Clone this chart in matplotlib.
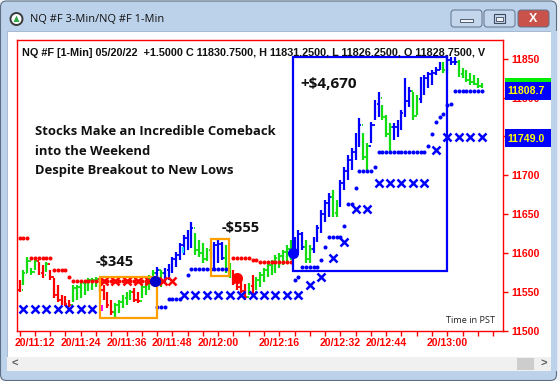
import numpy as np
import matplotlib.pyplot as plt
from matplotlib.colors import LinearSegmentedColormap
from matplotlib.patches import Rectangle, FancyBboxPatch, Circle, Polygon

plt.rcParams["font.family"] = ["Liberation Sans", "DejaVu Sans"]

# 1-min bars, x in minutes after 11:00 (PST, 05/20/22)
bar_min = list(range(8, 130))
bar_hi = [11565, 11578, 11595, 11581, 11594, 11589, 11585, 11589, 11578, 11568,
          11559, 11546, 11545, 11540, 11559, 11559, 11566, 11563, 11568, 11568,
          11569, 11566, 11559, 11550, 11540, 11536, 11540, 11546, 11550, 11553,
          11555, 11550, 11559, 11563, 11572, 11578, 11582, 11578, 11581, 11586,
          11595, 11601, 11613, 11623, 11630, 11640, 11626, 11617, 11613, 11607,
          11610, 11614, 11617, 11614, 11610, 11587, 11578, 11569, 11565, 11561,
          11562, 11572, 11569, 11576, 11581, 11589, 11591, 11598, 11600, 11604,
          11610, 11617, 11621, 11630, 11627, 11617, 11610, 11621, 11636, 11655,
          11668, 11677, 11681, 11668, 11694, 11711, 11726, 11735, 11754, 11774,
          11754, 11742, 11769, 11797, 11807, 11790, 11778, 11767, 11767, 11771,
          11784, 11825, 11813, 11807, 11803, 11826, 11829, 11833, 11835, 11839,
          11846, 11846, 11855, 11852, 11852, 11848, 11838, 11835, 11832, 11829,
          11825, 11819]
bar_lo = [11550, 11559, 11574, 11572, 11578, 11572, 11568, 11576, 11566, 11542,
          11537, 11533, 11532, 11531, 11537, 11540, 11542, 11546, 11551, 11553,
          11556, 11550, 11540, 11530, 11521, 11518, 11523, 11530, 11534, 11540,
          11537, 11536, 11542, 11546, 11553, 11559, 11562, 11557, 11562, 11565,
          11575, 11582, 11591, 11598, 11604, 11607, 11598, 11595, 11587, 11590,
          11594, 11581, 11588, 11591, 11575, 11568, 11559, 11553, 11549, 11540,
          11546, 11546, 11553, 11556, 11563, 11569, 11572, 11575, 11581, 11585,
          11588, 11591, 11598, 11600, 11604, 11588, 11588, 11600, 11615, 11626,
          11640, 11647, 11647, 11647, 11659, 11681, 11694, 11707, 11720, 11736,
          11720, 11707, 11742, 11771, 11775, 11771, 11749, 11729, 11745, 11749,
          11758, 11775, 11788, 11771, 11777, 11793, 11803, 11812, 11816, 11829,
          11835, 11832, 11832, 11842, 11842, 11826, 11825, 11820, 11816, 11816,
          11812, 11812]
bar_cl = [11553, 11575, 11590, 11576, 11590, 11575, 11572, 11586, 11569, 11546,
          11540, 11536, 11535, 11534, 11555, 11556, 11562, 11560, 11565, 11566,
          11567, 11553, 11543, 11533, 11524, 11533, 11537, 11543, 11547, 11550,
          11540, 11539, 11556, 11560, 11569, 11575, 11579, 11574, 11578, 11583,
          11592, 11598, 11610, 11620, 11626, 11632, 11604, 11600, 11592, 11604,
          11606, 11610, 11612, 11594, 11580, 11572, 11562, 11556, 11552, 11544,
          11558, 11550, 11565, 11572, 11578, 11585, 11588, 11594, 11597, 11601,
          11606, 11613, 11618, 11625, 11608, 11592, 11606, 11618, 11633, 11650,
          11664, 11672, 11652, 11664, 11690, 11706, 11720, 11730, 11750, 11765,
          11724, 11738, 11765, 11792, 11800, 11775, 11753, 11762, 11762, 11766,
          11780, 11795, 11808, 11776, 11798, 11822, 11825, 11830, 11832, 11836,
          11843, 11836, 11848, 11846, 11846, 11830, 11828, 11823, 11820, 11818,
          11815, 11814]
bar_col = ("rggggrrgrr" "rrrrgggggg" "grrrrggggg" "rrggggbgbb" "bbbbbbgggg"
           "gbbbggrrrr" "grgggggggg" "ggbbbggbbb" "bbggbbbbbb" "ggbbbgggbb"
           "bbbggbbbbb" "bgbbbggggg" "gg")

# trailing stops (1-min dots, 3-min crosses)
red_dot_min = list(range(8, 44)) + list(range(64, 80))
red_dot_px = ([11620] * 3 + [11594] * 6 + [11578] * 4 + [11569] + [11564] * 22
              + [11594] * 5 + [11591] * 2 + [11589] * 9)
blue_dot_min = ([44, 45, 46, 47, 48, 49, 50, 52] + list(range(53, 63)) + [80, 81]
                + list(range(82, 87)) + [87, 88, 89, 90, 91, 92, 93, 94, 95, 96,
                                         97, 98, 99, 100, 101]
                + list(range(102, 115)) + list(range(115, 122)) + list(range(122, 130)))
blue_dot_px = ([11531] * 3 + [11541] * 4 + [11572] + [11580] * 10 + [11565, 11569]
               + [11582] * 5 + [11591, 11608] + [11621] * 4 + [11635] + [11663] * 2
               + [11684] + [11706] * 4 + [11711] + [11730] * 13
               + [11738, 11753, 11768, 11775, 11779, 11790, 11792] + [11808.75] * 8)
blue_x_min = [9, 12, 15, 18, 21, 24, 27, 51, 54, 57, 60, 63, 66, 69, 72, 75, 78, 81,
              84, 87, 90, 93, 96, 99, 102, 105, 108, 111, 114, 117, 120, 123, 126, 129]
blue_x_px = ([11528] * 7 + [11546] * 11 + [11559, 11569, 11594, 11614, 11657, 11657]
             + [11690] * 5 + [11733] + [11749] * 4)
red_x_min = [30, 33, 36, 39, 42, 45.5, 48]
red_x_px = [11564] * 7

# entries / exits: (start, end, low, high, colour, label, label_x, label_y, size)
trades = [
    (29.0, 43.9, 11517, 11569, "#ffa000", "-$345", 28.0, 11589, 10.5),
    (58.1, 62.8, 11571, 11618, "#ffa000", "-$555", 61.0, 11632, 10.5),
    (79.5, 119.9, 11577, 11852, "#0000ff", "+$4,670", 81.6, 11817, 11),
]
signals_min = [43.4, 65.0, 79.6]
signals_px = [11564, 11568, 11600]
signals_col = ["#0000cc", "#ff0000", "#0000ff"]

headline = ["Stocks Make an Incredible Comeback", "into the Weekend",
            "Despite Breakout to New Lows"]
headline_px = [11756, 11731, 11706]
header = ("NQ #F [1-Min] 05/20/22  +1.5000 C 11830.7500, H 11831.2500, "
          "L 11826.2500, O 11828.7500, V")
price_ticks = [11500, 11550, 11600, 11650, 11700, 11750, 11800, 11850]
hidden_price = [11750]  # sits fully under the last-value flag
time_ticks = list(range(8, 133, 4))
time_labels = {12: "20/11:12", 24: "20/11:24", 36: "20/11:36", 48: "20/11:48",
               60: "20/12:00", 76: "20/12:16", 92: "20/12:32", 104: "20/12:44",
               120: "20/13:00"}
last_labels = [("11808.7", 91), ("11749.0", 138)]

RED, GRN, BLU = "#ff0000", "#11dd11", "#0000ff"
cmap = {"r": RED, "g": GRN, "b": BLU}

fig = plt.figure(figsize=(5.6, 3.81), dpi=100)
fig.patch.set_facecolor("#eef2f7")

# ---- window chrome, pixel coords ----
bg = fig.add_axes([0, 0, 1, 1], zorder=0)
bg.axis("off")
body = FancyBboxPatch((0.5, 1), 556, 379.5, boxstyle="round,pad=0,rounding_size=6",
                      fc="#bcd2ea", ec="#5d6d82", lw=0.8)
bg.add_patch(body)
tb = LinearSegmentedColormap.from_list("tb", ["#cddff3", "#b9d0ea"])
im = bg.imshow(np.linspace(0, 1, 32).reshape(-1, 1), extent=(1, 556, 31, 1),
               cmap=tb, aspect="auto")
im.set_clip_path(body)
bg.add_patch(Rectangle((7, 31), 544, 326, fc="white", ec="#9fb3cc", lw=0.6))
bg.add_patch(Rectangle((7, 357), 544, 14, fc="#f0f0f0", ec="none"))
bg.add_patch(Rectangle((517, 358), 17, 12, fc="#cdcdcd", ec="none"))
bg.text(15, 364, "<", color="#606060", fontsize=8, ha="center", va="center",
        fontweight="bold")
bg.text(544, 364, ">", color="#606060", fontsize=8, ha="center", va="center",
        fontweight="bold")
bg.add_patch(Circle((16.5, 19), 6, fc="white", ec="#3a3a3a", lw=1.4))
bg.add_patch(Polygon([(13.5, 22), (19.5, 22), (16.5, 15.5)], fc="#2fa84a", ec="none"))
bg.text(30, 19.5, "NQ #F 3-Min/NQ #F 1-Min", fontsize=7.9, va="center",
        family=["Open Sans", "DejaVu Sans"], color="#101010")
for bx, face in [(451, "#c4d6ec"), (484, "#c4d6ec"), (518, "#c9534a")]:
    bg.add_patch(FancyBboxPatch((bx, 10), 31, 17, boxstyle="round,pad=0,rounding_size=3",
                                fc=face, ec="#5f708a", lw=0.7))
bg.add_patch(Rectangle((460, 18.5), 13, 3, fc="#eef3f9", ec="#3d4a5c", lw=0.6))
bg.add_patch(Rectangle((494, 14), 11, 9, fc="none", ec="#3d4a5c", lw=0.8))
bg.add_patch(Rectangle((496, 16.5), 7, 4, fc="#eef3f9", ec="#3d4a5c", lw=0.6))
bg.text(533.5, 18.5, "X", color="white", fontsize=9, fontweight="bold",
        ha="center", va="center")
bg.set_xlim(0, 560)
bg.set_ylim(381, 0)

# ---- chart ----
ax = fig.add_axes([17 / 560, 50 / 381, 486 / 560, 291 / 381], zorder=2)
ax.set_facecolor("white")
ax.set_xlim(7.3, 134.6)
ax.set_ylim(11500, 11874)

opens = [bar_cl[0]] + bar_cl[:-1]
for m, hi, lo, op, cl, c in zip(bar_min, bar_hi, bar_lo, opens, bar_cl, bar_col):
    col = cmap[c]
    ax.vlines(m, lo, hi, color=col, lw=1.6, zorder=3)
    ax.hlines(op, m - 0.45, m, color=col, lw=1.3, zorder=3)
    ax.hlines(cl, m, m + 0.45, color=col, lw=1.3, zorder=3)

ax.plot(red_dot_min, red_dot_px, "o", color=RED, ms=2.9, mew=0, zorder=4)
ax.plot(blue_dot_min, blue_dot_px, "o", color=BLU, ms=2.9, mew=0, zorder=4)
ax.plot(blue_x_min, blue_x_px, "x", color=BLU, ms=5.8, mew=1.8, zorder=4)
ax.plot(red_x_min, red_x_px, "x", color=RED, ms=5.8, mew=1.8, zorder=4)
ax.plot([29.5], [11530], "|", color="#ff00ff", ms=4, mew=1.5, zorder=4)
ax.plot([50.7], [11604], "|", color="#22ddff", ms=4, mew=1.5, zorder=4)
for m, p, c in zip(signals_min, signals_px, signals_col):
    ax.plot(m, p, "o", color=c, ms=8, mew=0, zorder=6)

for x0, x1, lo, hi, c, lab, lx, ly, fs in trades:
    ax.add_patch(Rectangle((x0, lo), x1 - x0, hi - lo, fill=False, ec=c, lw=1.6, zorder=5))
    ax.text(lx, ly, lab, fontsize=fs, fontweight="bold", va="center",
            family=["Open Sans", "DejaVu Sans"], color="#111111", zorder=7)

for line, y in zip(headline, headline_px):
    ax.text(12, y, line, fontsize=9.4, fontweight="bold", va="center",
            family=["Open Sans", "DejaVu Sans"], color="#111111", zorder=7)

hdr = ax.text(8.7, 11857, header, fontsize=7.8, fontweight="bold", va="center",
              color="#111111", zorder=7)
hdr.set_clip_path(Rectangle((7.3, 11500), 129.3 - 7.3, 380, transform=ax.transData))

ax.text(132.4, 11513, "Time in PST", fontsize=6.6, ha="right", va="center",
        family=["Open Sans", "DejaVu Sans"], color="#222222", zorder=7)

for s in ax.spines.values():
    s.set_color(RED)
    s.set_linewidth(1.0)
ax.yaxis.tick_right()
ax.set_yticks(price_ticks)
ax.set_yticklabels(["" if p in hidden_price else str(p) for p in price_ticks])
ax.set_xticks(time_ticks)
ax.set_xticklabels([time_labels.get(t, "") for t in time_ticks])
ax.tick_params(axis="both", colors=RED, direction="out", length=3.6, width=1.0,
               labelsize=7.6, labelcolor=RED)
ax.tick_params(axis="y", pad=2.6)
ax.tick_params(axis="x", pad=1.8)
for lab in ax.get_xticklabels() + ax.get_yticklabels():
    lab.set_fontweight("bold")

# ---- last-value flags on the price scale, over the labels ----
ov = fig.add_axes([0, 0, 1, 1], zorder=5)
ov.patch.set_alpha(0)
ov.axis("off")
ov.add_patch(Rectangle((505, 78), 46, 4, fc="#00ee00", ec="none"))
for txt, yc in last_labels:
    ov.add_patch(Rectangle((505, yc - 9), 46, 18, fc="#0000ff", ec="none"))
    ov.text(507, yc + 0.5, txt, color="#ffff00", fontsize=7.6, fontweight="bold",
            va="center")
ov.add_patch(Rectangle((551, 31), 6, 340, fc="#bcd2ea", ec="none"))
ov.set_xlim(0, 560)
ov.set_ylim(381, 0)

fig.savefig("out.png", dpi=100)
